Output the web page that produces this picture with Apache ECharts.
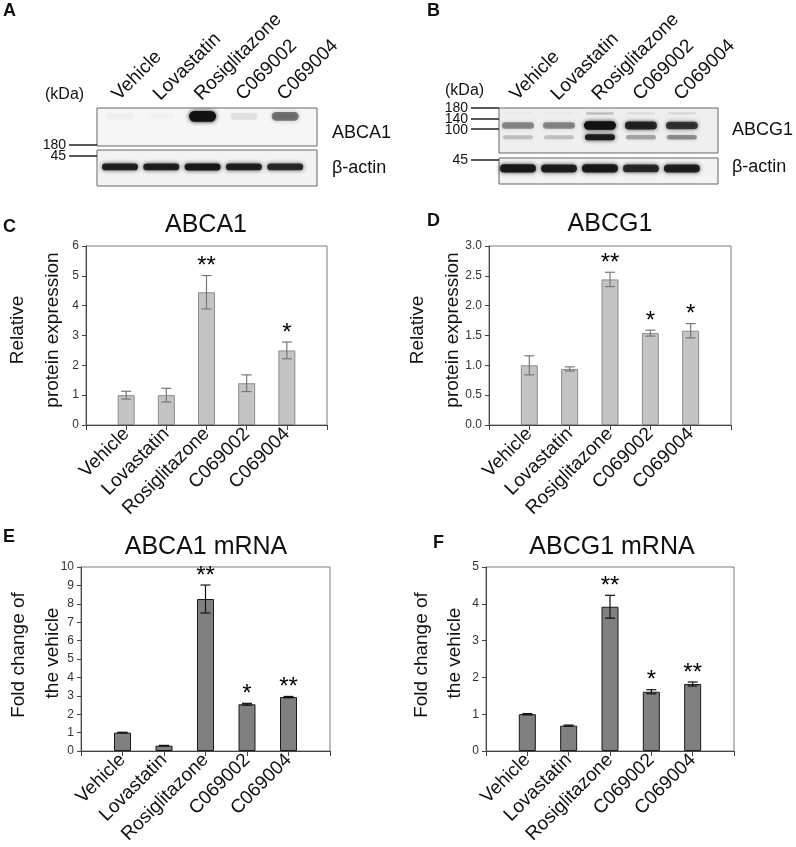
<!DOCTYPE html>
<html>
<head>
<meta charset="utf-8">
<script src="https://cdn.jsdelivr.net/npm/echarts@6/dist/echarts.min.js"></script>
<style>
html, body { margin: 0; padding: 0; background: #fff; }
#fig { width: 796px; height: 847px; }
</style>
</head>
<body>
<div id="fig"></div>
<script>
// treatments, same order in every panel
var lanes = ['Vehicle', 'Lovastatin', 'Rosiglitazone', 'C069002', 'C069004'];

// western blots, band darkness per lane (0 none .. 1 saturated)
var abca1Band = [0.03, 0.015, 1.0, 0.08, 0.5];
var actinBandA = [0.88, 0.88, 0.92, 0.88, 0.82];
var abcg1Top = [0.03, 0.03, 0.2, 0.08, 0.1];
var abcg1Mid = [0.42, 0.42, 1.0, 0.85, 0.75];
var abcg1Low = [0.2, 0.2, 0.9, 0.3, 0.4];
var actinBandB = [0.92, 0.88, 0.92, 0.82, 0.88];
var kdaA = ['180', '45'];
var kdaB = ['180', '140', '100', '45'];

// C  ABCA1 protein
var abca1Prot = [1.0, 1.0, 4.45, 1.4, 2.5];
var abca1ProtErr = [0.13, 0.23, 0.56, 0.28, 0.28];
var abca1ProtSig = ['', '', '**', '', '*'];
var ticksC = ['0', '1', '2', '3', '4', '5', '6'];

// D  ABCG1 protein
var abcg1Prot = [1.0, 0.94, 2.44, 1.54, 1.58];
var abcg1ProtErr = [0.16, 0.035, 0.12, 0.05, 0.12];
var abcg1ProtSig = ['', '', '**', '*', '*'];
var ticksD = ['0.0', '0.5', '1.0', '1.5', '2.0', '2.5', '3.0'];

// E  ABCA1 mRNA
var abca1Rna = [1.0, 0.29, 8.26, 2.54, 2.93];
var abca1RnaErr = [0.02, 0.015, 0.76, 0.05, 0.035];
var abca1RnaSig = ['', '', '**', '*', '**'];
var ticksE = ['0', '1', '2', '3', '4', '5', '6', '7', '8', '9', '10'];

// F  ABCG1 mRNA
var abcg1Rna = [1.0, 0.69, 3.92, 1.61, 1.82];
var abcg1RnaErr = [0.015, 0.015, 0.31, 0.055, 0.055];
var abcg1RnaSig = ['', '', '**', '*', '**'];
var ticksF = ['0', '1', '2', '3', '4', '5'];

var FONT = '"Liberation Sans", Arial, Helvetica, sans-serif';

var fig = echarts.init(document.getElementById('fig'));

function barGrid(l, t, w, h) {
  return { left: l, top: t, width: w, height: h, show: true, borderColor: '#7a7a7a', borderWidth: 1, outerBoundsMode: 'none' };
}
function blotGrid(l, t, w, h, bg) {
  return { left: l, top: t, width: w, height: h, show: true, backgroundColor: bg, borderColor: '#666', borderWidth: 1, outerBoundsMode: 'none' };
}

function laneAxis(g) {
  return {
    type: 'value', gridIndex: g, min: 0, max: 6, interval: 1,
    axisLine: { show: true, onZero: false, lineStyle: { color: '#444', width: 1 } },
    axisTick: { show: true, length: 5, lineStyle: { color: '#444' } },
    splitLine: { show: false },
    axisLabel: {
      rotate: 45, margin: 6, fontSize: 19, color: '#111', fontFamily: FONT,
      formatter: function (v) { return lanes[v - 1] || ''; }
    }
  };
}
function levelAxis(g, ticks, step) {
  return {
    type: 'value', gridIndex: g, min: 0, max: (ticks.length - 1) * step, interval: step,
    axisLine: { show: true, lineStyle: { color: '#444', width: 1 } },
    axisTick: { show: true, length: 4, lineStyle: { color: '#444' } },
    splitLine: { show: false },
    axisLabel: {
      fontSize: 12, color: '#333', margin: 7, fontFamily: FONT,
      formatter: function (v) { return ticks[Math.round(v / step)]; }
    }
  };
}
function blotX(g, lo, hi) {
  return { type: 'value', gridIndex: g, min: lo, max: hi, show: false };
}
function blotY(g) {
  return { type: 'value', gridIndex: g, min: 0, max: 1, inverse: true, show: false };
}

// error bar plus significance mark
function whiskerRender(color, sig) {
  return function (params, api) {
    var x = api.value(0), m = api.value(1), e = api.value(2);
    var top = api.coord([x, m + e]);
    var bot = api.coord([x, m - e]);
    var cap = 5;
    var st = { stroke: color, lineWidth: 1.2 };
    var kids = [
      { type: 'line', shape: { x1: top[0], y1: top[1], x2: bot[0], y2: bot[1] }, style: st },
      { type: 'line', shape: { x1: top[0] - cap, y1: top[1], x2: top[0] + cap, y2: top[1] }, style: st },
      { type: 'line', shape: { x1: bot[0] - cap, y1: bot[1], x2: bot[0] + cap, y2: bot[1] }, style: st }
    ];
    var s = sig[params.dataIndex];
    if (s) {
      kids.push({
        type: 'text',
        style: {
          x: top[0], y: top[1] - 9, text: s, fill: '#000', font: '24px ' + FONT,
          align: 'center', verticalAlign: 'middle', textAlign: 'center', textVerticalAlign: 'middle'
        }
      });
    }
    return { type: 'group', children: kids };
  };
}

function barSeries(g, mean, err, sig, fill, edge, whisk) {
  return [
    {
      type: 'bar', xAxisIndex: g, yAxisIndex: g, barWidth: 17, silent: true,
      data: mean.map(function (v, i) { return [i + 1, v]; }),
      itemStyle: { color: fill, borderColor: edge, borderWidth: 1 }
    },
    {
      type: 'custom', xAxisIndex: g, yAxisIndex: g, silent: true, z: 3,
      data: mean.map(function (v, i) { return [i + 1, v, err[i]]; }),
      renderItem: whiskerRender(whisk, sig)
    }
  ];
}

// soft band of a blot, row = vertical place in the box (0 top .. 1 bottom)
function bandRender(row, h, w) {
  return function (params, api) {
    var c = api.coord([api.value(0), row]);
    var a = api.value(1);
    var hh = h * (0.75 + 0.45 * a);
    var col = 'rgba(18,18,18,' + a + ')';
    return {
      type: 'rect',
      shape: { x: c[0] - w / 2, y: c[1] - hh / 2, width: w, height: hh, r: hh / 2 },
      style: { fill: col, shadowBlur: 4, shadowColor: col }
    };
  };
}
function bandSeries(g, vals, row, h, w) {
  return {
    type: 'custom', xAxisIndex: g, yAxisIndex: g, silent: true,
    data: vals.map(function (v, i) { return [i + 1, v]; }),
    renderItem: bandRender(row, h, w)
  };
}
function laneLabelSeries(g) {
  return {
    type: 'custom', xAxisIndex: g, yAxisIndex: g, silent: true,
    data: lanes.map(function (n, i) { return [i + 1, 0]; }),
    renderItem: function (params, api) {
      var c = api.coord([api.value(0), 0]);
      return {
        type: 'text', x: c[0] + 2, y: c[1] - 4, rotation: Math.PI / 4,
        style: {
          x: 0, y: 0, text: lanes[params.dataIndex], fill: '#111', font: '19px ' + FONT,
          align: 'left', verticalAlign: 'bottom', textAlign: 'left', textVerticalAlign: 'bottom'
        }
      };
    }
  };
}

function txt(x, y, s, size, opt) {
  opt = opt || {};
  var al = opt.align || 'left';
  return {
    type: 'text', x: x, y: y, rotation: opt.rot || 0,
    style: {
      x: 0, y: 0, text: s, fill: opt.color || '#111',
      font: (opt.bold ? 'bold ' : '') + size + 'px ' + FONT,
      align: al, verticalAlign: 'middle', textAlign: al, textVerticalAlign: 'middle'
    }
  };
}
function tickMark(x1, x2, y) {
  return { type: 'line', shape: { x1: x1, y1: y, x2: x2, y2: y }, style: { stroke: '#222', lineWidth: 1.5 } };
}

var graphics = [
  txt(3, 11, 'A', 18, { bold: true }),
  txt(427, 11, 'B', 18, { bold: true }),
  txt(3, 227, 'C', 18, { bold: true }),
  txt(427, 221, 'D', 18, { bold: true }),
  txt(3, 537, 'E', 18, { bold: true }),
  txt(433, 543, 'F', 18, { bold: true }),

  txt(206, 225, 'ABCA1', 25, { align: 'center' }),
  txt(610, 224, 'ABCG1', 25, { align: 'center' }),
  txt(206, 547, 'ABCA1 mRNA', 25, { align: 'center' }),
  txt(612, 547, 'ABCG1 mRNA', 25, { align: 'center' }),

  txt(18, 330, 'Relative', 19, { align: 'center', rot: Math.PI / 2 }),
  txt(53, 330, 'protein expression', 19, { align: 'center', rot: Math.PI / 2 }),
  txt(418, 330, 'Relative', 19, { align: 'center', rot: Math.PI / 2 }),
  txt(453, 330, 'protein expression', 19, { align: 'center', rot: Math.PI / 2 }),
  txt(19, 655, 'Fold change of', 19, { align: 'center', rot: Math.PI / 2 }),
  txt(53, 653, 'the vehicle', 19, { align: 'center', rot: Math.PI / 2 }),
  txt(422, 655, 'Fold change of', 19, { align: 'center', rot: Math.PI / 2 }),
  txt(455, 653, 'the vehicle', 19, { align: 'center', rot: Math.PI / 2 }),

  // blot A side marks
  txt(45, 95, '(kDa)', 16),
  txt(66, 145, kdaA[0], 14, { align: 'right' }),
  tickMark(69, 97, 145),
  txt(66, 156, kdaA[1], 14, { align: 'right' }),
  tickMark(69, 97, 156),
  txt(332, 133, 'ABCA1', 18),
  txt(332, 168, 'β-actin', 18),

  // blot B side marks
  txt(445, 91, '(kDa)', 16),
  txt(468, 108, kdaB[0], 14, { align: 'right' }),
  tickMark(471, 499, 108),
  txt(468, 119, kdaB[1], 14, { align: 'right' }),
  tickMark(471, 499, 119),
  txt(468, 130, kdaB[2], 14, { align: 'right' }),
  tickMark(471, 499, 129),
  txt(468, 160, kdaB[3], 14, { align: 'right' }),
  tickMark(471, 499, 160),
  txt(732, 130, 'ABCG1', 18),
  txt(732, 167, 'β-actin', 18)
];

var option = {
  backgroundColor: '#fff',
  animation: false,
  grid: [
    barGrid(86, 246, 241, 179),
    barGrid(489, 246, 242, 179),
    barGrid(81, 567, 249, 184),
    barGrid(486, 567, 248, 184),
    blotGrid(97, 108, 220, 38, '#f6f6f6'),
    blotGrid(97, 150, 220, 36, '#f3f3f3'),
    blotGrid(499, 108, 219, 45, '#efefef'),
    blotGrid(499, 158, 219, 26, '#f3f3f3')
  ],
  xAxis: [
    laneAxis(0), laneAxis(1), laneAxis(2), laneAxis(3),
    blotX(4, 0.443, 5.77), blotX(5, 0.443, 5.77),
    blotX(6, 0.537, 5.88), blotX(7, 0.537, 5.88)
  ],
  yAxis: [
    levelAxis(0, ticksC, 1), levelAxis(1, ticksD, 0.5),
    levelAxis(2, ticksE, 1), levelAxis(3, ticksF, 1),
    blotY(4), blotY(5), blotY(6), blotY(7)
  ],
  series: [].concat(
    barSeries(0, abca1Prot, abca1ProtErr, abca1ProtSig, '#c4c4c4', '#8c8c8c', '#777'),
    barSeries(1, abcg1Prot, abcg1ProtErr, abcg1ProtSig, '#c4c4c4', '#8c8c8c', '#777'),
    barSeries(2, abca1Rna, abca1RnaErr, abca1RnaSig, '#808080', '#1a1a1a', '#111'),
    barSeries(3, abcg1Rna, abcg1RnaErr, abcg1RnaSig, '#808080', '#1a1a1a', '#111'),
    [
      bandSeries(4, abca1Band, 0.22, 9, 27),
      bandSeries(5, actinBandA, 0.47, 6, 36),
      bandSeries(6, abcg1Top, 0.12, 3, 28),
      bandSeries(6, abcg1Mid, 0.39, 7, 32),
      bandSeries(6, abcg1Low, 0.65, 5, 30),
      bandSeries(7, actinBandB, 0.4, 7, 36),
      laneLabelSeries(4),
      laneLabelSeries(6)
    ]
  ),
  graphic: { elements: graphics }
};

fig.setOption(option);
</script>
</body>
</html>
